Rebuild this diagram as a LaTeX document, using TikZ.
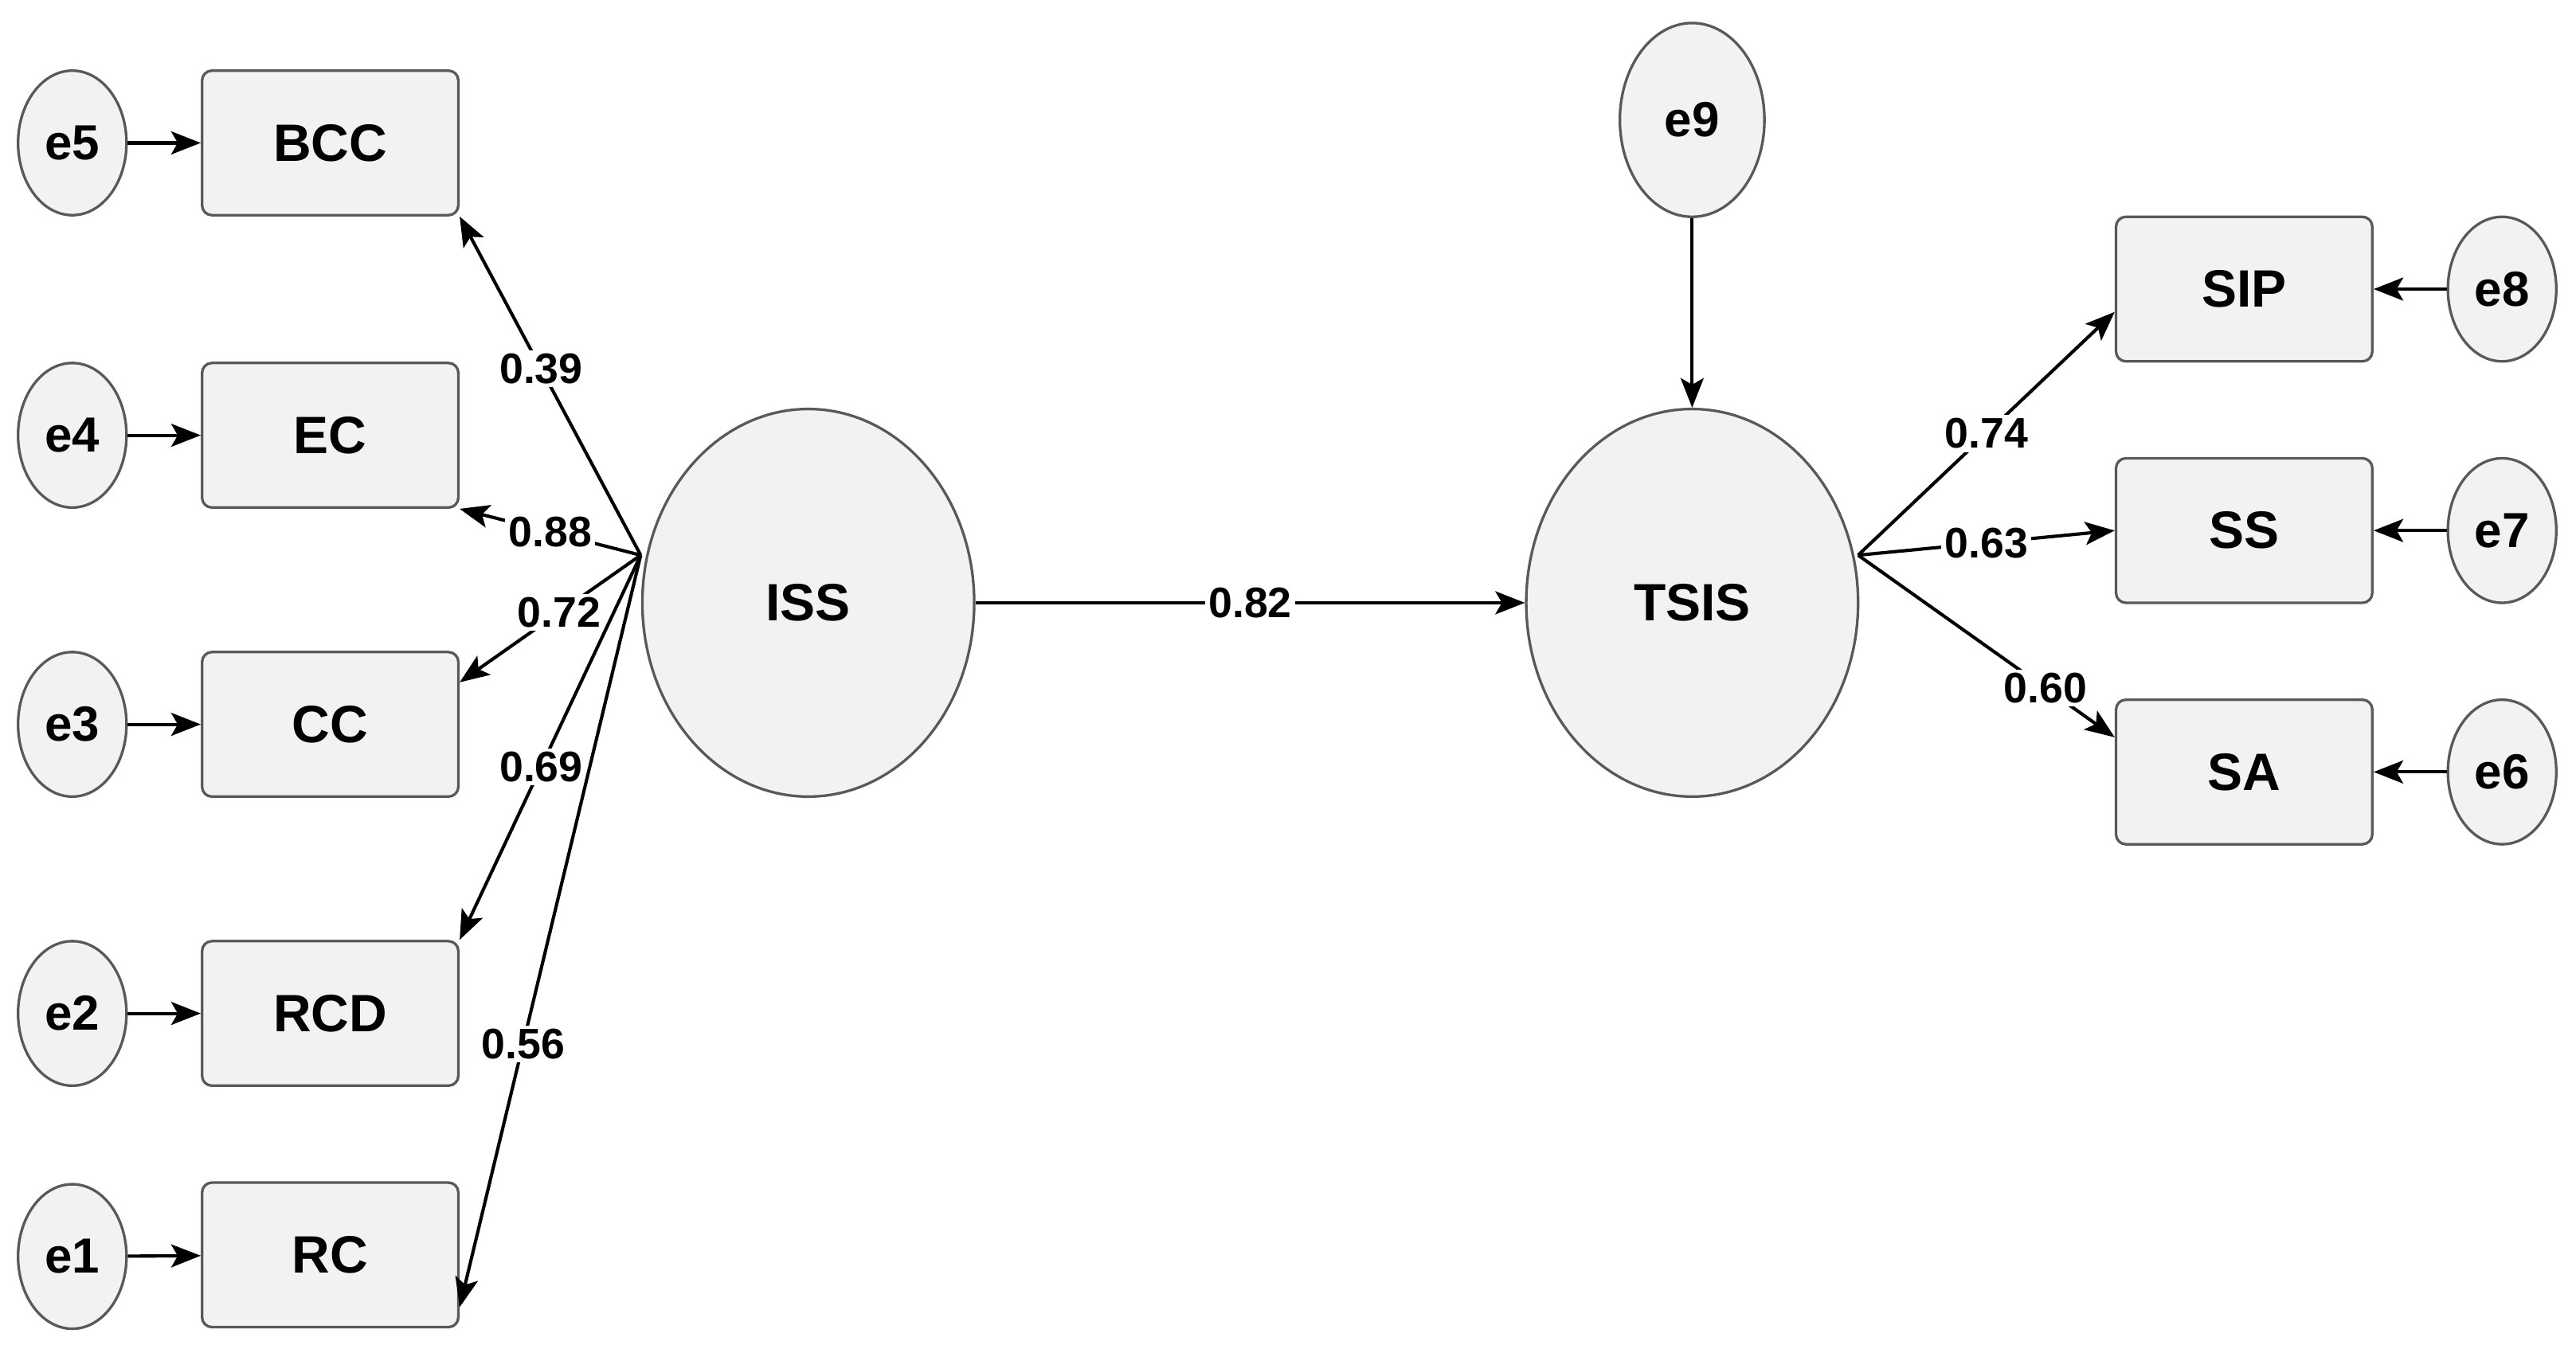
\documentclass[tikz,border=0pt]{standalone}
\usepackage{fontspec}
\setmainfont{Liberation Sans}
\usetikzlibrary{arrows.meta,shapes.geometric}
\begin{document}
\begin{tikzpicture}[x=0.5pt,y=-0.5pt,
  err/.style={ellipse,draw=black!65,fill=black!5,line width=0.8pt,minimum width=33pt,minimum height=44pt,inner sep=0pt,font=\fontsize{15}{15}\bfseries},
  obs/.style={rectangle,rounded corners=3pt,draw=black!65,fill=black!5,line width=0.8pt,minimum width=78pt,minimum height=44pt,font=\fontsize{16}{16}\bfseries},
  lat/.style={ellipse,draw=black!65,fill=black!5,line width=0.8pt,minimum width=101pt,minimum height=118pt,font=\fontsize{16}{16}\bfseries},
  arr/.style={-{Stealth[length=9pt,width=7pt,inset=2pt]},line width=1pt},
  lbl/.style={fill=white,inner sep=1pt,font=\fontsize{13}{13}\bfseries}]
\useasboundingbox (0,0) rectangle (1568,821);
% left block
\node[err] (e5) at (44,87) {e5};
\node[err] (e4) at (44,265) {e4};
\node[err] (e3) at (44,441) {e3};
\node[err] (e2) at (44,617) {e2};
\node[err] (e1) at (44,765) {e1};
\node[obs] (bcc) at (201,87) {BCC};
\node[obs] (ec) at (201,265) {EC};
\node[obs] (cc) at (201,441) {CC};
\node[obs] (rcd) at (201,617) {RCD};
\node[obs] (rc) at (201,764) {RC};
\foreach \e/\b in {e5/bcc,e4/ec,e3/cc,e2/rcd,e1/rc}
  \draw[arr] (\e) -- (\b);
% latent variables
\node[lat] (iss) at (492,367) {ISS};
\node[lat] (tsis) at (1030,367) {TSIS};
\node[err,minimum width=44pt,minimum height=59pt] (e9) at (1030,73) {e9};
\coordinate (issL) at (390,338);
\coordinate (tsisR) at (1131,338);
\draw[arr] (issL) -- node[lbl,pos=0.55]{0.39} (bcc.south east);
\draw[arr] (issL) -- node[lbl,pos=0.5]{0.88} (ec.south east);
\draw[arr] (issL) -- node[lbl,pos=0.45]{0.72} (cc.18);
\draw[arr] (issL) -- node[lbl,pos=0.55]{0.69} (rcd.north east);
\draw[arr] (issL) -- node[lbl,pos=0.65]{0.56} (rc.-22);
\draw[arr] (iss) -- node[lbl]{0.82} (tsis);
\draw[arr] (e9) -- (tsis);
% right block
\node[obs] (sip) at (1366,176) {SIP};
\node[obs] (ss) at (1366,323) {SS};
\node[obs] (sa) at (1366,470) {SA};
\node[err] (e8) at (1523,176) {e8};
\node[err] (e7) at (1523,323) {e7};
\node[err] (e6) at (1523,470) {e6};
\foreach \e/\b in {e8/sip,e7/ss,e6/sa}
  \draw[arr] (\e) -- (\b);
\draw[arr] (tsisR) -- node[lbl,pos=0.5]{0.74} (sip.-170);
\draw[arr] (tsisR) -- node[lbl,pos=0.5]{0.63} (ss.west);
\draw[arr] (tsisR) -- node[lbl,pos=0.73]{0.60} (sa.165);
\end{tikzpicture}
\end{document}
